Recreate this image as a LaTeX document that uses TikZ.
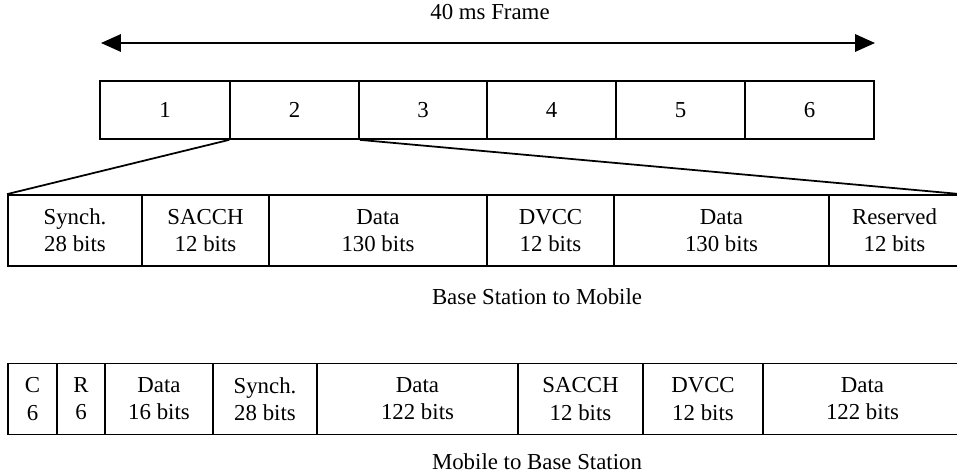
\documentclass[tikz,border=0pt]{standalone}
\usepackage{fontspec}
\setmainfont{Liberation Serif}
\usepackage{tikz}
\usetikzlibrary{arrows.meta,positioning}

\begin{document}
\begin{tikzpicture}[x=0.02cm,y=-0.02cm,
  slot/.style={draw,line width=1pt,minimum height=58*0.02cm,inner sep=0pt,
              font=\fontsize{13}{15.5}\selectfont},
  field/.style={draw,line width=1pt,minimum height=71*0.02cm,inner sep=0pt,
              execute at begin node=\vphantom{Sh},
              align=center,font=\fontsize{13}{15.5}\selectfont},
  caption/.style={font=\fontsize{13}{15.5}\selectfont},
  span/.style={{Triangle[length=4mm,width=3.5mm]}-{Triangle[length=4mm,width=3.5mm]},line width=1pt}
]
\clip (0,0) rectangle (957,476);
% frame of six slots
\node[caption] (title) at (490,12) {40 ms Frame};
\coordinate (fl) at (101,43);
\coordinate (fr) at (875,43);
\draw[span] (fl) -- (fr);
\node[slot,minimum width=130*0.02cm] (s1) at (165,110) {1};
\node[slot,minimum width=129*0.02cm] (s2) at (294.5,110) {2};
\node[slot,minimum width=128*0.02cm] (s3) at (423,110) {3};
\node[slot,minimum width=129*0.02cm] (s4) at (551.5,110) {4};
\node[slot,minimum width=129*0.02cm] (s5) at (680.5,110) {5};
\node[slot,minimum width=129*0.02cm] (s6) at (809.5,110) {6};
% base station to mobile
\node[field,minimum width=134*0.02cm] (b1) at (75,230.5) {Synch.\\28 bits};
\node[field,minimum width=127*0.02cm] (b2) at (205.5,230.5) {SACCH\\12 bits};
\node[field,minimum width=218*0.02cm] (b3) at (378,230.5) {Data\\130 bits};
\node[field,minimum width=127*0.02cm] (b4) at (550.5,230.5) {DVCC\\12 bits};
\node[field,minimum width=215*0.02cm] (b5) at (721.5,230.5) {Data\\130 bits};
\node[field,minimum width=131*0.02cm] (b6) at (894.5,230.5) {Reserved\\12 bits};
\draw[line width=1pt] (s2.south west) -- (b1.north west);
\draw[line width=1pt] (s2.south east) -- (b6.north east);
\node[caption] (down) at (537,297) {Base Station to Mobile};
% mobile to base station
\node[field,minimum width=49*0.02cm] (m1) at (32.5,399) {C\\6};
\node[field,minimum width=48*0.02cm] (m2) at (81,399) {R\\6};
\node[field,minimum width=108*0.02cm] (m3) at (159,399) {Data\\16 bits};
\node[field,minimum width=104*0.02cm] (m4) at (265,399) {Synch.\\28 bits};
\node[field,minimum width=201*0.02cm] (m5) at (417.5,399) {Data\\122 bits};
\node[field,minimum width=125*0.02cm] (m6) at (580.5,399) {SACCH\\12 bits};
\node[field,minimum width=120*0.02cm] (m7) at (703,399) {DVCC\\12 bits};
\node[field,minimum width=199*0.02cm] (m8) at (862.5,399) {Data\\122 bits};
\node[caption] (up) at (537,462) {Mobile to Base Station};
\end{tikzpicture}
\end{document}
